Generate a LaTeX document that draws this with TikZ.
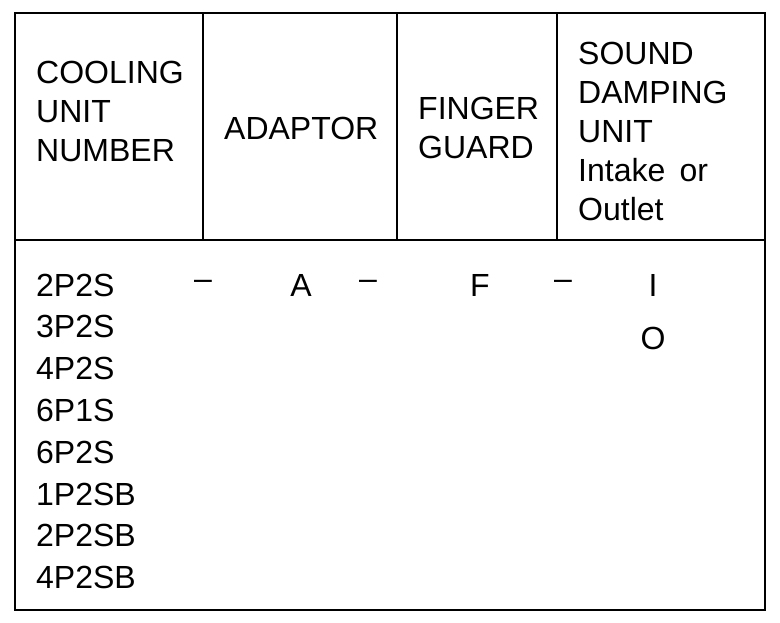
\documentclass[tikz,border=0pt]{standalone}
\usepackage{fontspec}
\setmainfont{Liberation Sans}
\begin{document}
\begin{tikzpicture}[x=1pt,y=-1pt,
  every node/.style={font=\fontsize{32}{39}\selectfont, inner sep=0pt},
  cell/.style={anchor=west, align=left},
  rule/.style={line width=1.6pt}]
\useasboundingbox (0,0) rectangle (780,623);
% frame and column rules
\draw[rule] (15,13) rectangle (765,610);
\draw[rule] (15,240) -- (765,240);
\foreach \x in {203,397,557} \draw[rule] (\x,13) -- (\x,240);
% header
\node[cell] (unit) at (36,111) {COOLING\\UNIT\\NUMBER};
\node[cell] (adaptor) at (224,128) {ADAPTOR};
\node[cell] (guard) at (418,128) {FINGER\\GUARD};
\node[cell] (sound) at (578,131) {SOUND\\DAMPING\\UNIT\\Intake\, or\\Outlet};
% body
\foreach \n [count=\i from 0] in {2P2S,3P2S,4P2S,6P1S,6P2S,1P2SB,2P2SB,4P2SB}
  \node[cell] (row\i) at (36,285+41.8*\i) {\n};
\node (dashA) at (203,285) {--};
\node (optA) at (301,285) {A};
\node (dashF) at (368,285) {--};
\node (optF) at (480,285) {F};
\node (dashI) at (563,285) {--};
\node (optI) at (653,285) {I};
\node (optO) at (653,338) {O};
\end{tikzpicture}
\end{document}
